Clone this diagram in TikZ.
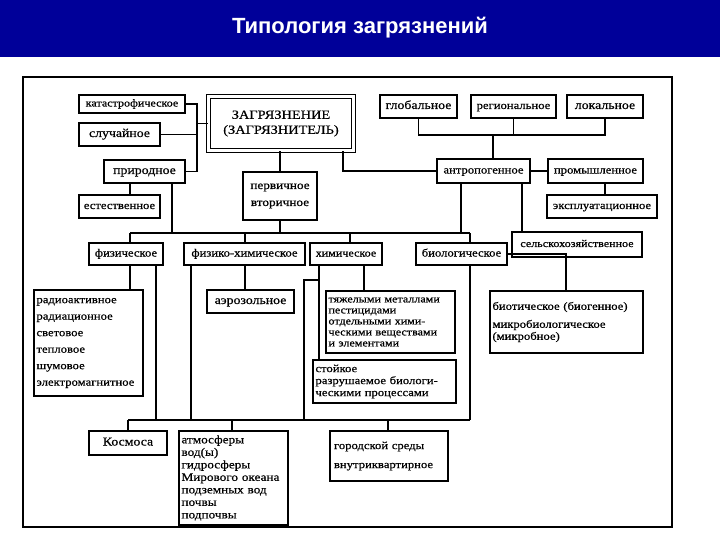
\documentclass[tikz,border=0pt]{standalone}
\usepackage{fontspec}
\setmainfont{Liberation Serif}[FakeStretch=1.15,FakeBold=0.6]
\newfontfamily\titlefont{Liberation Sans}
\begin{document}
\begin{tikzpicture}[x=1pt,y=-1pt,
  box/.style={draw,line width=1.5pt,inner sep=2pt,font=\fontsize{12}{13}\selectfont},
  sbox/.style={box,text height=0.7em,text depth=0.2em},
  lst/.style={box,align=left,anchor=center},
  ln/.style={line width=1.5pt}]
\useasboundingbox (0,0) rectangle (720,540);
\fill[white] (0,0) rectangle (720,540);
\fill[blue!60!black] (0,0) rectangle (720,57);
\node[text=white,font=\titlefont\bfseries\fontsize{22}{26}\selectfont] (title) at (360,28) {Типология загрязнений};
\draw[line width=1.2pt] (23,77) rectangle (672,527);
% boxes
\node[sbox,minimum width=106pt,minimum height=18pt,font=\fontsize{10.5}{11}\selectfont] (kat) at (132,104) {катастрофическое};
\node[sbox,minimum width=81pt,minimum height=23pt] (sluch) at (119.5,134.5) {случайное};
\node[sbox,minimum width=81pt,minimum height=23pt] (prir) at (144.5,171.5) {природное};
\node[sbox,minimum width=81pt,minimum height=23pt,font=\fontsize{11}{11}\selectfont] (est) at (119.5,206.5) {естественное};
\node[box,double,double distance=2.5pt,minimum width=145pt,minimum height=54pt,align=center,font=\fontsize{12.5}{15}\selectfont] (zag) at (281,123.5) {ЗАГРЯЗНЕНИЕ\\(ЗАГРЯЗНИТЕЛЬ)};
\node[box,minimum width=74pt,minimum height=48pt,align=center,font=\fontsize{11.5}{17}\selectfont] (perv) at (280,196) {первичное\\вторичное};
\node[sbox,minimum width=77pt,minimum height=23pt] (glob) at (418.5,106.5) {глобальное};
\node[sbox,minimum width=85pt,minimum height=23pt,font=\fontsize{11}{11}\selectfont] (reg) at (513.5,106.5) {региональное};
\node[sbox,minimum width=76pt,minimum height=23pt] (lok) at (605,106.5) {локальное};
\node[sbox,minimum width=93pt,minimum height=24pt,font=\fontsize{11}{11}\selectfont] (antr) at (483.5,171) {антропогенное};
\node[sbox,minimum width=95pt,minimum height=24pt,font=\fontsize{11}{11}\selectfont] (prom) at (595.5,171) {промышленное};
\node[sbox,minimum width=110pt,minimum height=23pt,font=\fontsize{11}{11}\selectfont] (expl) at (602,206.5) {эксплуатационное};
\node[sbox,minimum width=130pt,minimum height=25pt,font=\fontsize{10.5}{11}\selectfont] (selsk) at (577,244.5) {сельскохозяйственное};
\node[sbox,minimum width=74pt,minimum height=22pt,font=\fontsize{11}{11}\selectfont] (fiz) at (126,254) {физическое};
\node[sbox,minimum width=121pt,minimum height=22pt,font=\fontsize{11}{11}\selectfont] (fizkh) at (244.5,254) {физико-химическое};
\node[sbox,minimum width=72pt,minimum height=22pt,font=\fontsize{10.5}{11}\selectfont] (khim) at (346,254) {химическое};
\node[sbox,minimum width=91pt,minimum height=22pt,font=\fontsize{11}{11}\selectfont] (bio) at (461.5,254) {биологическое};
\node[lst,minimum width=109pt,minimum height=106pt,text width=104pt,font=\fontsize{11}{16.5}\selectfont] (rad) at (88.5,343) {радиоактивное\\радиационное\\световое\\тепловое\\шумовое\\электромагнитное};
\node[sbox,minimum width=87pt,minimum height=23pt] (aer) at (250.5,301.5) {аэрозольное};
\node[lst,minimum width=129pt,minimum height=62pt,text width=124pt,font=\fontsize{10.5}{11}\selectfont] (tyazh) at (390.5,322) {тяжелыми металлами\\пестицидами\\отдельными хими-\\ческими веществами\\и элементами};
\node[lst,minimum width=143pt,minimum height=43pt,text width=138pt,font=\fontsize{11}{12}\selectfont] (stoik) at (384.5,381.5) {стойкое\\разрушаемое биологи-\\ческими процессами};
\node[lst,minimum width=153pt,minimum height=62pt,text width=148pt,font=\fontsize{11}{12}\selectfont] (biot) at (566.5,322) {биотическое (биогенное)\\[6pt]микробиологическое\\(микробное)};
\node[sbox,minimum width=78pt,minimum height=24pt] (kosm) at (128,443) {Космоса};
\node[lst,minimum width=109pt,minimum height=94pt,text width=104pt,font=\fontsize{11.5}{12.5}\selectfont] (atm) at (233.5,478) {атмосферы\\вод(ы)\\гидросферы\\Мирового океана\\подземных вод\\почвы\\подпочвы};
\node[lst,minimum width=118pt,minimum height=50pt,text width=110pt,font=\fontsize{11}{19}\selectfont] (gor) at (389,456) {городской среды\\внутриквартирное};
% junctions
\coordinate (j1) at (197,123.5);
\coordinate (bus) at (280,233);
\coordinate (bb) at (304,420);
% connectors top-left
\draw[ln] (kat.east) -| (197,171.5) -- (prir.east);
\draw[ln] (sluch.east) -- (sluch.east -| j1);
\draw[ln] (j1) -- (zag.west |- j1);
\draw[ln] (prir.south -| 130,0) -- (est.north -| 130,0);
\draw[ln] (zag.south -| perv.north) -- (perv.north);
\draw[ln] (perv.south) -- (bus);
% level bus
\draw[ln] (130,233) -- (470,233);
\draw[ln] (prir.south -| 172,0) -- (172,233);
\draw[ln] (130,233) -- (fiz.north -| 130,0);
\draw[ln] (245,233) -- (fizkh.north -| 245,0);
\draw[ln] (350,233) -- (khim.north -| 350,0);
\draw[ln] (470,233) -- (bio.north -| 470,0);
% anthropogenic
\draw[ln] (zag.south -| 343,0) |- (antr.west);
\draw[ln] (glob.south) -- (418.5,135) -- (605,135) -- (lok.south);
\draw[ln] (reg.south) -- (513.5,135);
\draw[ln] (493,135) -- (antr.north -| 493,0);
\draw[ln] (antr.east) -- (prom.west);
\draw[ln] (prom.south -| 605,0) -- (expl.north -| 605,0);
\draw[ln] (antr.south -| 461,0) -- (461,233);
\draw[ln] (antr.south -| 522,0) -- (selsk.north -| 522,0);
% second level
\draw[ln] (fiz.south -| 130,0) -- (rad.north -| 130,0);
\draw[ln] (fizkh.south -| 245,0) -- (aer.north -| 245,0);
\draw[ln] (khim.south -| 364,0) -- (tyazh.north -| 364,0);
\draw[ln] (khim.south -| 319,0) -- (stoik.north -| 319,0);
\draw[ln] (319,280) -- (304,280) -- (bb);
\draw[ln] (bio.east) -| (biot.north -| 566,0);
% bottom bus
\draw[ln] (128,420) -- (470,420);
\draw[ln] (fiz.south -| 156,0) -- (156,420);
\draw[ln] (fizkh.south -| 191,0) -- (191,420);
\draw[ln] (bio.south -| 470,0) -- (470,420);
\draw[ln] (128,420) -- (kosm.north -| 128,0);
\draw[ln] (232,420) -- (atm.north -| 232,0);
\draw[ln] (388,420) -- (gor.north -| 388,0);
\end{tikzpicture}
\end{document}
